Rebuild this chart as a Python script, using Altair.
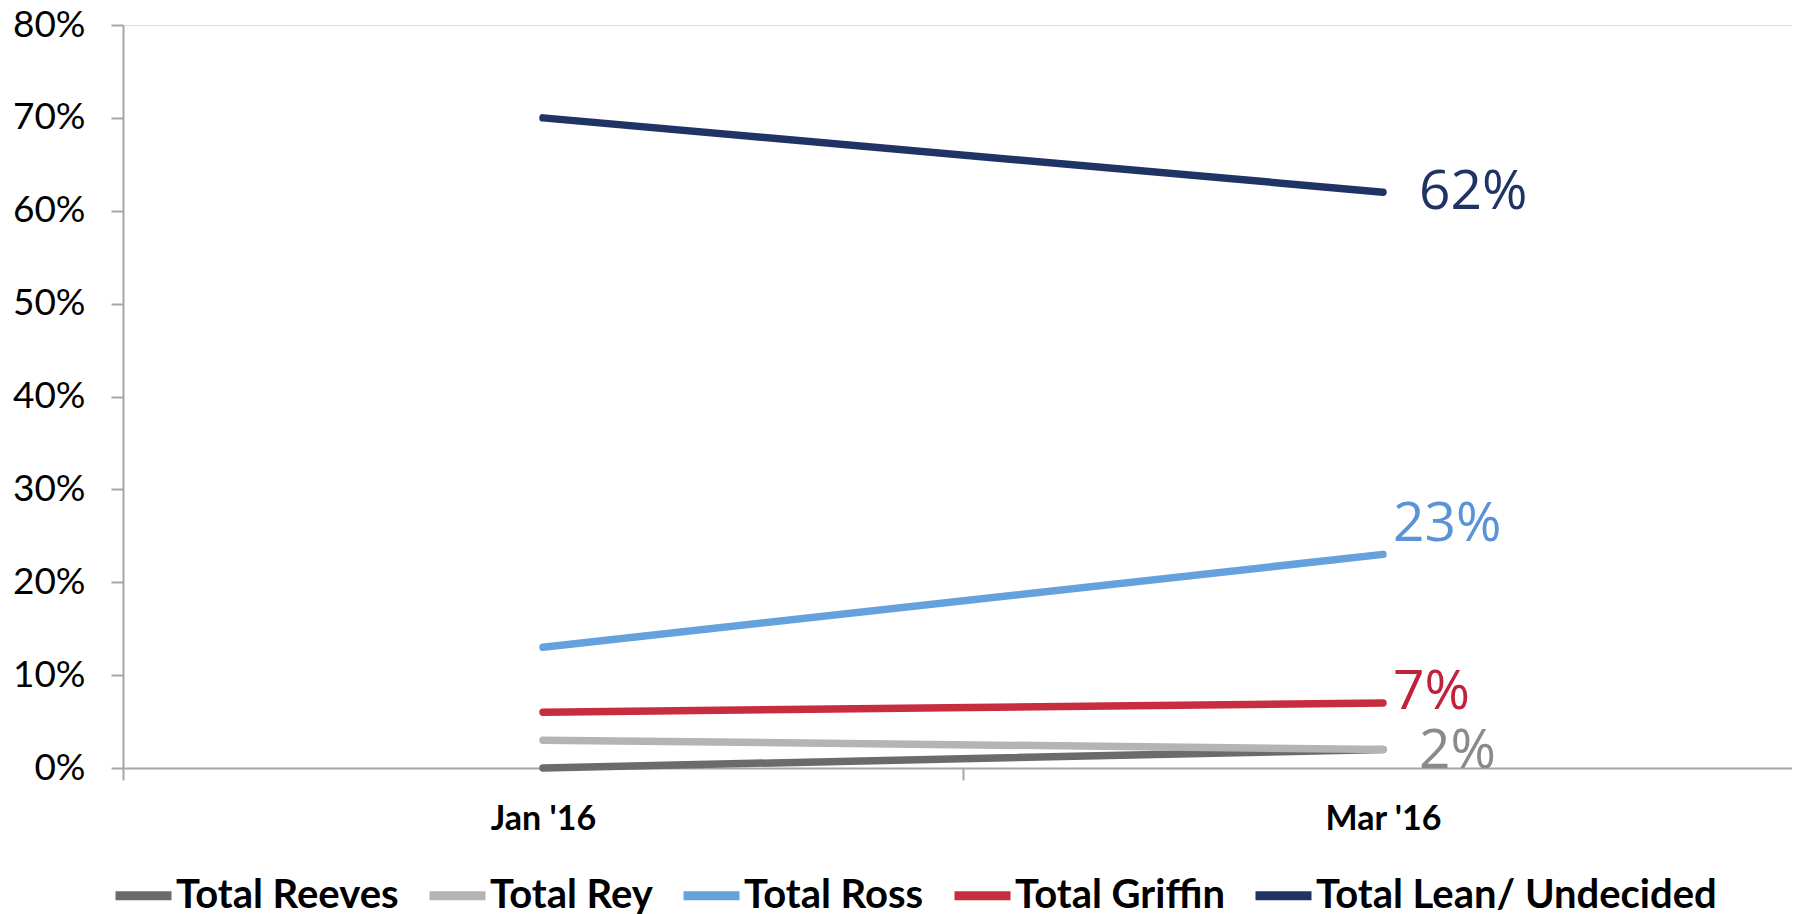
import altair as alt
import pandas as pd

# ---- data ----
months = ["Jan '16", "Mar '16"]
series = ["Total Reeves", "Total Rey", "Total Ross", "Total Griffin", "Total Lean/ Undecided"]
reeves = [0.00, 0.02]
rey = [0.03, 0.02]
ross = [0.13, 0.23]
griffin = [0.06, 0.07]
lean = [0.70, 0.62]
y_ticks = [0.0, 0.1, 0.2, 0.3, 0.4, 0.5, 0.6, 0.7, 0.8]

label_series = ["Total Lean/ Undecided", "Total Ross", "Total Griffin", "Total Rey"]
label_texts = ["62%", "23%", "7%", "2%"]

# ---- styles ----
colors = ["#6b6b6b", "#b4b4b4", "#65a1dd", "#c82c3f", "#1f3465"]
label_colors = ["#1f3465", "#5b94d6", "#c0223a", "#8a8a8a"]
label_dx = [36, 10, 10, 36]
label_dy = [0, -30, -11, 2]

values = [reeves, rey, ross, griffin, lean]
rows = []
for s, vals in zip(series, values):
    for m, v in zip(months, vals):
        rows.append({"series": s, "month": m, "value": v})
df = pd.DataFrame(rows)

lab_rows = []
for s, t in zip(label_series, label_texts):
    v = values[series.index(s)][-1]
    lab_rows.append({"series": s, "month": months[-1], "value": v, "text": t})
lab_df = pd.DataFrame(lab_rows)

x_enc = alt.X(
    "month:N",
    sort=months,
    scale=alt.Scale(type="band", paddingInner=0, paddingOuter=0, range=[0, 1680]),
    axis=alt.Axis(
        title=None, labelAngle=0, tickBand="extent", tickSize=12,
        labelFont="Lato", labelFontWeight="bold", labelFontSize=34, labelColor="#000000",
        labelPadding=22, domainColor="#a6a6a6", domainWidth=2, tickColor="#a6a6a6", tickWidth=2,
    ),
)
y_enc = alt.Y(
    "value:Q",
    scale=alt.Scale(domain=[0, 0.8], nice=False),
    axis=alt.Axis(
        title=None, format=".0%", values=y_ticks, grid=False, tickSize=12,
        labelFont="Lato", labelFontSize=37, labelColor="#000000", labelPadding=26,
        domainColor="#a6a6a6", domainWidth=2, tickColor="#a6a6a6", tickWidth=2,
    ),
)

lines = alt.Chart(df).mark_line(strokeWidth=7.5, strokeCap="round").encode(
    x=x_enc,
    y=y_enc,
    color=alt.Color(
        "series:N",
        sort=series,
        scale=alt.Scale(domain=series, range=colors),
        legend=alt.Legend(
            title=None, orient="none", direction="horizontal", legendX=-12, legendY=838,
            symbolType="stroke", symbolSize=3136, symbolStrokeWidth=9,
            labelFont="Lato", labelFontWeight="bold", labelFontSize=40, labelColor="#000000",
            labelLimit=0, labelOffset=0, columnPadding=12, padding=0,
        ),
    ),
)

layers = [lines]
for s, c, dx, dy in zip(label_series, label_colors, label_dx, label_dy):
    layers.append(
        alt.Chart(lab_df).transform_filter(alt.datum.series == s).mark_text(
            align="left", baseline="middle", dx=dx, dy=dy, color=c,
            font="Open Sans", fontSize=55,
        ).encode(x=alt.X("month:N", sort=months), y="value:Q", text="text:N")
    )

chart = alt.layer(*layers).properties(
    width=1669, height=743,
    autosize=alt.AutoSizeParams(type="none"),
    padding={"left": 115, "top": 17, "right": 0, "bottom": 146},
).configure_view(stroke=None).configure(background="#ffffff")

chart.save("out.html", embed_options={"renderer": "svg", "actions": False})
